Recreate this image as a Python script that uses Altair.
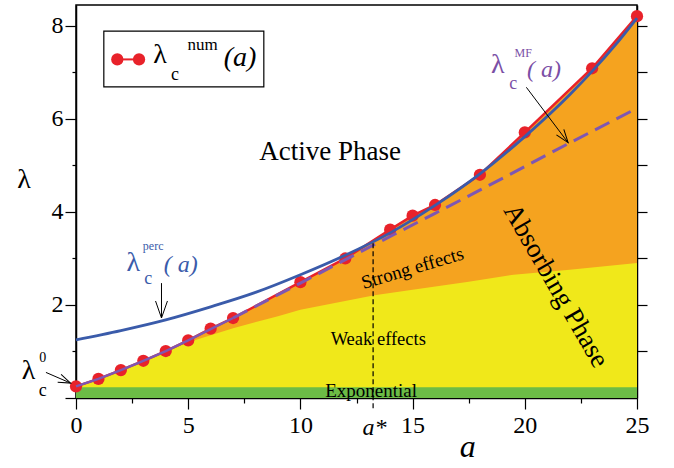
import altair as alt
import pandas as pd

FONT = "Liberation Serif"
ORANGE = "#F5A31F"
YELLOW = "#F0E81A"
GREEN = "#6CBC46"
RED = "#E8222A"
BLUE = "#3A5BAA"
PURPLE = "#7E57B2"
PURPLE_T = "#7B4FA6"

# numerical critical points
num_a = [0, 1, 2, 3, 4, 5, 6, 7, 10, 12, 14, 15, 16, 18, 20, 23, 25]
num_lam = [0.25, 0.41, 0.60, 0.80, 1.01, 1.24, 1.49, 1.72, 2.49, 3.00, 3.62, 3.92, 4.15, 4.80, 5.71, 7.09, 8.21]

# percolation curve
perc_a = [0, 2, 4, 6, 8, 10, 12, 14, 16, 18, 20, 22, 24, 25]
perc_lam = [1.25, 1.45, 1.68, 1.96, 2.27, 2.65, 3.07, 3.55, 4.14, 4.82, 5.62, 6.52, 7.57, 8.17]

# mean-field curve
mf_a = [0, 1, 2, 3, 4, 5, 6, 7, 10, 13.3, 16, 18.4, 21.9, 25]
mf_lam = [0.25, 0.41, 0.60, 0.80, 1.01, 1.24, 1.48, 1.72, 2.47, 3.30, 3.97, 4.57, 5.46, 6.23]

# weak/strong effects boundary
weak_a = [0, 1, 2, 3, 4, 5, 7, 9, 10, 13.3, 15, 17.5, 19.5, 22, 25]
weak_lam = [0.25, 0.41, 0.60, 0.80, 1.0, 1.2, 1.5, 1.76, 1.9, 2.21, 2.33, 2.5, 2.65, 2.76, 2.9]

# exponential band
exp_a = [0]
exp_a2 = [25]
exp_lo = [0]
exp_hi = [0.23]

# a* marker
astar_x = [13.24]
astar_lo = [-0.22]
astar_hi = [3.33]

# annotations
ann_text = ["Active Phase", "Absorbing Phase", "Strong effects", "Weak effects", "Exponential",
            "λ", "c", "perc", "( a)",
            "λ", "c", "MF", "( a)",
            "λ", "c", "0",
            "λ", "c", "num", "(a)",
            "λ", "a", "a*"]
ann_x = [11.32, 21.38, 14.99, 13.47, 13.15,
         2.55, 3.22, 3.44, 4.67,
         18.8, 19.48, 19.93, 20.85,
         -2.12, -1.48, -1.48,
         3.74, 4.41, 5.64, 7.31,
         -2.32, 17.46, 13.3]
ann_y = [5.30, 2.41, 2.79, 1.26, 0.16,
         2.90, 2.55, 3.27, 2.86,
         7.16, 6.75, 7.41, 7.05,
         0.57, 0.14, 0.87,
         7.38, 6.95, 7.59, 7.30,
         4.69, -1.05, -0.645]
ann_fs = [27, 27, 19, 18.5, 19,
          28, 18, 12, 24,
          28, 18, 12, 24,
          28, 18, 14,
          28, 18, 17, 28,
          28, 32, 24]
ann_ang = [0, 60, 343.5, 0, 0,
           0, 0, 0, 0,
           0, 0, 0, 0,
           0, 0, 0,
           0, 0, 0, 0,
           0, 0, 0]
ann_col = ["black"] * 5 + [BLUE] * 4 + [PURPLE_T] * 4 + ["black"] * 3 + ["black"] * 4 + ["black"] * 3
ann_it = [0] * 5 + [0, 0, 0, 1] + [0, 0, 0, 1] + [0, 0, 0] + [0, 0, 0, 1] + [0, 1, 1]

# arrows
arr_x = [3.81, 20.07, -1.34]
arr_y = [2.47, 6.68, 0.55]
arr_x2 = [3.81, 21.93, -0.24]
arr_y2 = [1.72, 5.49, 0.32]
arr_ang = [90, 52.9, 23.4]
arr_size = [1156, 700, 600]

# legend box
leg_x = [1.24]
leg_x2 = [8.37]
leg_y = [6.69]
leg_y2 = [7.89]
leg_pts_a = [1.84, 2.81]
leg_pts_y = [7.28, 7.28]

xs = alt.Scale(domain=[0, 25], nice=False, zero=False)
ys = alt.Scale(domain=[0, 8.45], nice=False, zero=False)


def X(f="a", axis=None):
    return alt.X(f"{f}:Q", scale=xs, axis=axis)


def Y(f="y", axis=None):
    return alt.Y(f"{f}:Q", scale=ys, axis=axis)


num_df = pd.DataFrame({"a": num_a, "y": num_lam})
perc_df = pd.DataFrame({"a": perc_a, "y": perc_lam})
mf_df = pd.DataFrame({"a": mf_a, "y": mf_lam})
weak_df = pd.DataFrame({"a": weak_a, "y": weak_lam})

orange = alt.Chart(num_df).mark_area(color=ORANGE, opacity=1).encode(
    x=X(), y=Y(), y2=alt.datum(0))
yellow = alt.Chart(weak_df).mark_area(color=YELLOW, opacity=1).encode(
    x=X(), y=Y(), y2=alt.datum(0))
green = alt.Chart(pd.DataFrame({"a": exp_a, "a2": exp_a2, "y": exp_lo, "y2": exp_hi})).mark_rect(
    color=GREEN, opacity=1).encode(x=X(), x2="a2:Q", y=Y(), y2="y2:Q")

x_axis = alt.Axis(
    values=[0, 2.5, 5, 7.5, 10, 12.5, 15, 17.5, 20, 22.5, 25],
    labelExpr="datum.value % 5 === 0 ? format(datum.value, 'd') : ''",
    tickSize={"condition": {"test": "datum.value % 5 === 0", "value": 11}, "value": 5},
    tickColor="black", tickWidth=1.2, domainColor="black", domainWidth=1.5,
    labelFont=FONT, labelFontSize=24, labelColor="black", labelPadding=4,
    grid=False, title=None, orient="bottom", labelFlush=False, labelOverlap=False)
yl_axis = alt.Axis(
    values=[0, 1, 2, 3, 4, 5, 6, 7, 8],
    labelExpr="datum.value % 2 === 0 && datum.value > 0 ? format(datum.value, 'd') : ''",
    tickSize={"condition": {"test": "datum.value % 2 === 0", "value": 11}, "value": 4},
    tickColor="black", tickWidth=1.2, domainColor="black", domainWidth=1.5,
    labelFont=FONT, labelFontSize=24, labelColor="black", labelPadding=2,
    grid=False, title=None, orient="left", labelFlush=False, labelOverlap=False)
yr_axis = alt.Axis(
    values=[1, 2, 3, 4, 5, 6, 7, 8], tickSize=10, labels=False,
    tickColor="black", tickWidth=1.2, domainColor="black", domainWidth=1.5,
    grid=False, title=None, orient="right")

red_line = alt.Chart(num_df).mark_line(color=RED, strokeWidth=2.5).encode(x=X(), y=Y())
red_pts = alt.Chart(num_df).mark_circle(color=RED, size=150, opacity=1).encode(
    x=X(axis=x_axis), y=Y(axis=yl_axis))
mf_solid = alt.Chart(mf_df).transform_filter("datum.a <= 7").mark_line(
    color=PURPLE, strokeWidth=2.5).encode(x=X(), y=Y())
mf_dash = alt.Chart(mf_df).transform_filter("datum.a >= 7").mark_line(
    color=PURPLE, strokeWidth=3, strokeDash=[16, 8]).encode(x=X(), y=Y())
blue = alt.Chart(perc_df).mark_line(color=BLUE, strokeWidth=2.8, interpolate="monotone").encode(
    x=X(), y=Y(axis=yr_axis))

astar = alt.Chart(pd.DataFrame({"a": astar_x, "y": astar_lo, "y2": astar_hi})).mark_rule(
    color="black", strokeWidth=1.2, strokeDash=[5, 3]).encode(x=X(), y=Y(), y2="y2:Q")

ann_df = pd.DataFrame({"t": ann_text, "a": ann_x, "y": ann_y, "fs": ann_fs,
                       "ang": ann_ang, "col": ann_col, "it": ann_it})


def text_layer(italic):
    return alt.Chart(ann_df).transform_filter(f"datum.it == {italic}").mark_text(
        font=FONT, align="center", baseline="middle",
        fontStyle="italic" if italic else "normal").encode(
        x=X(), y=Y(), text="t:N",
        size=alt.Size("fs:Q", scale=None, legend=None),
        angle=alt.Angle("ang:Q", scale=None),
        color=alt.Color("col:N", scale=None, legend=None))


arr_df = pd.DataFrame({"a": arr_x, "y": arr_y, "a2": arr_x2, "y2": arr_y2,
                       "ang": arr_ang, "sz": arr_size})
arr_lines = alt.Chart(arr_df).mark_rule(color="black", strokeWidth=1).encode(
    x=X(), y=Y(), x2="a2:Q", y2="y2:Q")
arr_heads = alt.Chart(arr_df).mark_point(
    shape="M-1,-0.35L0,0L-1,0.35", filled=False, color="black", strokeWidth=1, opacity=1).encode(
    x=X("a2"), y=Y("y2"),
    angle=alt.Angle("ang:Q", scale=None),
    size=alt.Size("sz:Q", scale=None, legend=None))

legend_box = alt.Chart(pd.DataFrame({"a": leg_x, "a2": leg_x2, "y": leg_y, "y2": leg_y2})).mark_rect(
    fill="white", stroke="black", strokeWidth=1.2).encode(x=X(), x2="a2:Q", y=Y(), y2="y2:Q")
leg_df = pd.DataFrame({"a": leg_pts_a, "y": leg_pts_y})
legend_line = alt.Chart(leg_df).mark_line(color=RED, strokeWidth=2).encode(x=X(), y=Y())
legend_pts = alt.Chart(leg_df).mark_circle(color=RED, size=150, opacity=1).encode(x=X(), y=Y())

chart = alt.layer(
    orange, yellow, green, red_line, red_pts, mf_solid, mf_dash, blue, astar,
    legend_box, legend_line, legend_pts,
    text_layer(0), text_layer(1), arr_lines, arr_heads,
).resolve_axis(x="independent", y="independent").properties(
    width=561, height=393,
    autosize=alt.AutoSizeParams(type="none"),
    padding={"left": 76, "top": 5, "right": 37, "bottom": 70},
).configure(font=FONT).configure_axis(labelFont=FONT).configure_text(font=FONT).configure_view(
    stroke="black", strokeWidth=1.5)

chart.save("out.html", embed_options={"renderer": "svg", "actions": False})
